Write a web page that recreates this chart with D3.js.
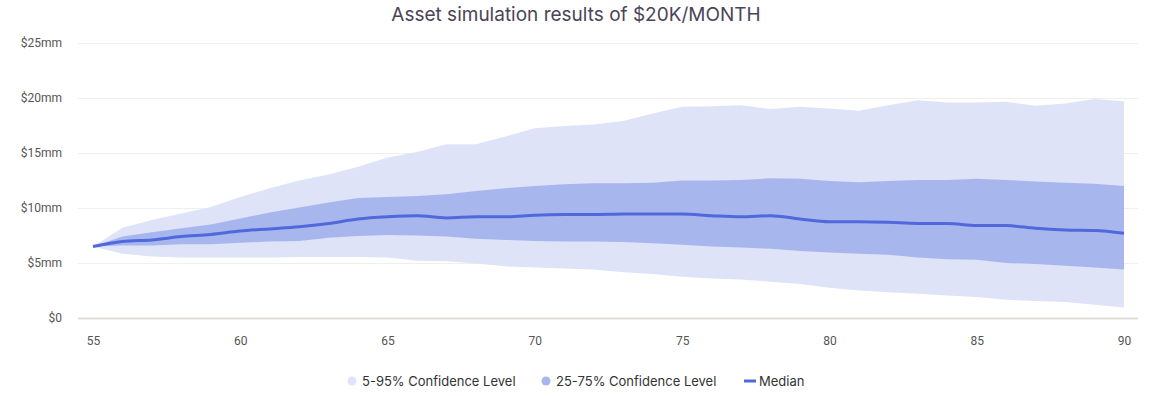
<!DOCTYPE html>
<html>
<head>
<meta charset="utf-8">
<script src="https://cdn.jsdelivr.net/npm/d3@7"></script>
<style>
    body { margin: 0; background: #fff; }
    .tick text { font-family: Roboto, "Liberation Sans", sans-serif; font-size: 12px; fill: #555; }
</style>
</head>
<body>
<div id="chart"></div>
<script>
//Chart values
var ages = [55, 56, 57, 58, 59, 60, 61, 62, 63, 64, 65, 66, 67, 68, 69, 70, 71, 72,
    73, 74, 75, 76, 77, 78, 79, 80, 81, 82, 83, 84, 85, 86, 87, 88, 89, 90];
var p5 = [6.5, 5.85, 5.6, 5.5, 5.5, 5.5, 5.5, 5.55, 5.55, 5.55, 5.5, 5.2, 5.15, 4.95, 4.7, 4.6, 4.5, 4.4,
    4.15, 4.0, 3.75, 3.6, 3.5, 3.3, 3.1, 2.75, 2.5, 2.35, 2.2, 2.05, 1.9, 1.65, 1.55, 1.45, 1.2, 0.95];
var p25 = [6.5, 6.6, 6.6, 6.7, 6.7, 6.85, 6.95, 7.0, 7.3, 7.45, 7.55, 7.5, 7.4, 7.2, 7.1, 7.0, 6.95, 6.95,
    6.9, 6.8, 6.65, 6.5, 6.4, 6.3, 6.1, 5.95, 5.85, 5.75, 5.5, 5.35, 5.3, 5.0, 4.9, 4.75, 4.6, 4.4];
var median = [6.5, 6.95, 7.1, 7.4, 7.6, 7.9, 8.1, 8.3, 8.6, 9.0, 9.2, 9.3, 9.1, 9.2, 9.2, 9.35, 9.4, 9.4,
    9.45, 9.45, 9.45, 9.3, 9.2, 9.3, 9.0, 8.75, 8.75, 8.7, 8.6, 8.6, 8.4, 8.4, 8.15, 8.0, 7.95, 7.7];
var p75 = [6.5, 7.4, 7.8, 8.15, 8.5, 9.05, 9.6, 10.05, 10.5, 10.9, 11.0, 11.1, 11.25, 11.55, 11.8, 12.0, 12.15, 12.25,
    12.25, 12.3, 12.5, 12.5, 12.55, 12.7, 12.65, 12.45, 12.35, 12.45, 12.55, 12.55, 12.65, 12.55, 12.4, 12.3, 12.2, 12.0];
var p95 = [6.5, 8.2, 8.9, 9.5, 10.1, 11.0, 11.8, 12.5, 13.05, 13.75, 14.6, 15.1, 15.8, 15.8, 16.5, 17.25, 17.45, 17.6,
    17.9, 18.6, 19.2, 19.25, 19.35, 19.0, 19.2, 19.05, 18.85, 19.35, 19.8, 19.6, 19.6, 19.65, 19.3, 19.5, 19.9, 19.7];
var yTicks = [0, 5, 10, 15, 20, 25];
var xTicks = [55, 60, 65, 70, 75, 80, 85, 90];
var legendItems = ["5-95% Confidence Level", "25-75% Confidence Level", "Median"];

var svgWidth = 1152;
var svgHeight = 396;

var margin = { top: 43, right: 14, bottom: 78, left: 78 };
var width = svgWidth - margin.left - margin.right;
var height = svgHeight - margin.top - margin.bottom;

var lightColor = "#dee3f8";
var midColor = "#a8b6ee";
var lineColor = "#5068dc";

var data = ages.map((a, i) => ({ age: a, p5: p5[i], p25: p25[i], med: median[i], p75: p75[i], p95: p95[i] }));

var svg = d3.select("#chart")
    .append("svg")
    .attr("width", svgWidth)
    .attr("height", svgHeight);

//Title
svg.append("text")
    .attr("x", svgWidth / 2)
    .attr("y", 21)
    .attr("text-anchor", "middle")
    .attr("font-family", "Inter, 'Noto Sans', sans-serif")
    .attr("font-size", 19)
    .attr("fill", "#4b4456")
    .text("Asset simulation results of $20K/MONTH");

var chartGroup = svg.append("g")
    .attr("transform", `translate(${margin.left}, ${margin.top})`);

var xScale = d3.scaleLinear().domain([55, 90]).range([15, 1046]);
var yScale = d3.scaleLinear().domain([0, 25]).range([height, 0]);

//Gridlines + y labels
var yAxis = chartGroup.append("g")
    .call(d3.axisLeft(yScale).tickValues(yTicks).tickSize(-width)
        .tickFormat(d => d === 0 ? "$0" : `$${d}mm`));
yAxis.select(".domain").remove();
yAxis.selectAll(".tick line").attr("stroke", d => d === 0 ? "#e2ddd8" : "#efefef").attr("stroke-width", d => d === 0 ? 2 : 1);
yAxis.selectAll(".tick text").attr("x", -16);

//x labels
var xAxis = chartGroup.append("g")
    .attr("transform", `translate(0, ${height})`)
    .call(d3.axisBottom(xScale).tickValues(xTicks).tickSize(0).tickPadding(18));
xAxis.select(".domain").remove();

//Bands
var outerArea = d3.area()
    .x(d => xScale(d.age))
    .y0(d => yScale(d.p5))
    .y1(d => yScale(d.p95));

var innerArea = d3.area()
    .x(d => xScale(d.age))
    .y0(d => yScale(d.p25))
    .y1(d => yScale(d.p75));

chartGroup.append("path")
    .datum(data)
    .attr("d", outerArea)
    .attr("fill", lightColor);

chartGroup.append("path")
    .datum(data)
    .attr("d", innerArea)
    .attr("fill", midColor);

//Median line
var medianLine = d3.line()
    .x(d => xScale(d.age))
    .y(d => yScale(d.med))
    .curve(d3.curveMonotoneX);

chartGroup.append("path")
    .datum(data)
    .attr("d", medianLine)
    .attr("fill", "none")
    .attr("stroke", lineColor)
    .attr("stroke-width", 3);

//Legend
var legend = svg.append("g")
    .attr("font-family", "Inter, 'Noto Sans', sans-serif")
    .attr("font-size", 13)
    .attr("fill", "#333");

var legendX = [352, 546, 745];
legendItems.forEach((label, i) => {
    var g = legend.append("g").attr("transform", `translate(${legendX[i]}, 381)`);
    if (i < 2) {
        g.append("circle").attr("r", 4.5).attr("fill", i === 0 ? lightColor : midColor);
        g.append("text").attr("x", 10).attr("y", 4.5).text(label);
    } else {
        g.append("line").attr("x1", -1).attr("x2", 11).attr("stroke", lineColor).attr("stroke-width", 3);
        g.append("text").attr("x", 14).attr("y", 4.5).text(label);
    }
});
</script>
</body>
</html>
